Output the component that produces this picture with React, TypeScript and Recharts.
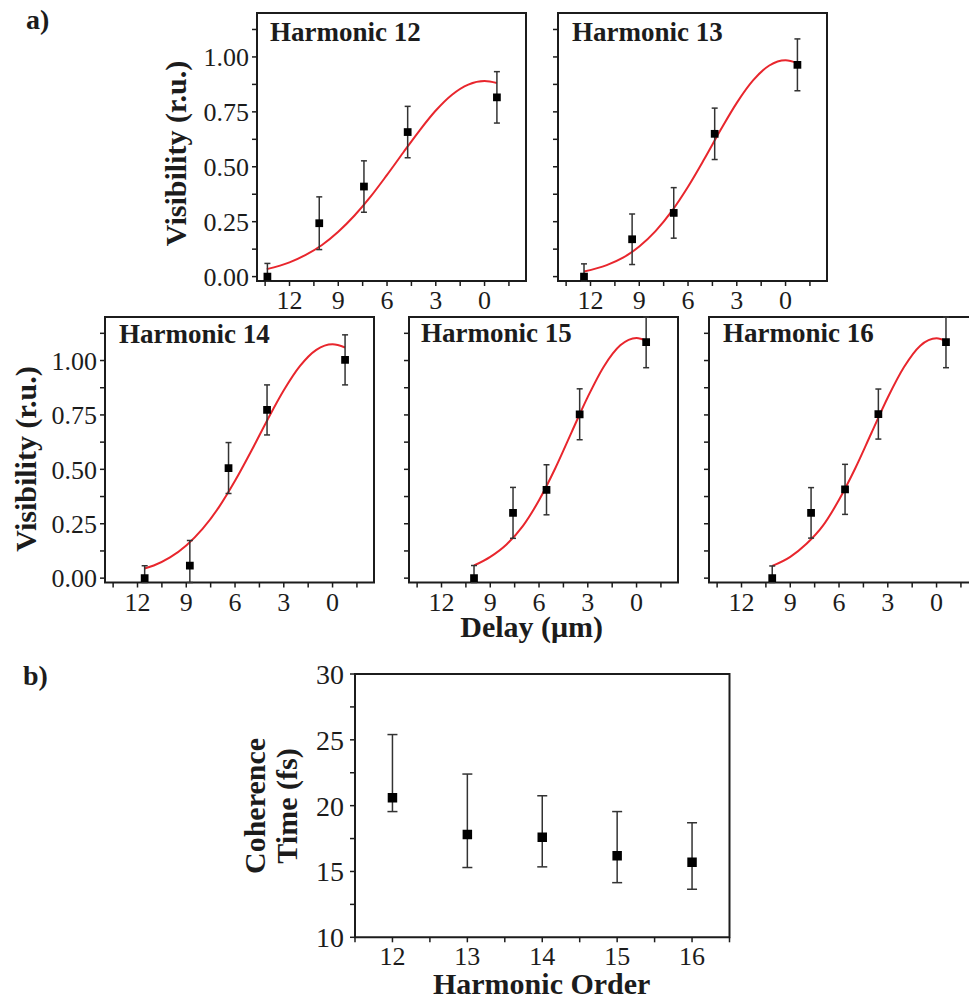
import React from 'react';
import { ComposedChart, Line, Scatter, XAxis, YAxis, ZAxis, ErrorBar, ReferenceArea } from 'recharts';

const FONT = "'Liberation Serif', 'Times New Roman', Times, serif";
const INK = '#1c1c1c';
const RED = '#e8262d';

// ---- axis ticks ----
const delayTicks = [13.5, 12, 10.5, 9, 7.5, 6, 4.5, 3, 1.5, 0, -1.5];
const delayLabelTicks = [12, 9, 6, 3, 0];
const visTicks = [0, 0.125, 0.25, 0.375, 0.5, 0.625, 0.75, 0.875, 1.0, 1.125];
const visLabelTicks = [0, 0.25, 0.5, 0.75, 1.0];
const orderTicks = [11.5, 12, 12.5, 13, 13.5, 14, 14.5, 15, 15.5, 16, 16.5];
const orderLabelTicks = [12, 13, 14, 15, 16];
const timeTicks = [10, 12.5, 15, 17.5, 20, 22.5, 25, 27.5, 30];
const timeLabelTicks = [10, 15, 20, 25, 30];

// ---- Harmonic 12 ----
const h12Delay = [13.36, 10.17, 7.42, 4.73, -0.76];
const h12Vis = [0.0, 0.243, 0.41, 0.658, 0.816];
const h12ErrLow = [0.02, 0.12, 0.117, 0.117, 0.117];
const h12ErrHigh = [0.06, 0.12, 0.117, 0.117, 0.117];
const h12FitDelay = [13.4, 12, 11, 10, 9, 8, 7, 6, 5, 4, 3, 2, 1, 0, -0.76];
const h12FitVis = [0.034, 0.065, 0.099, 0.144, 0.204, 0.278, 0.365, 0.463, 0.565, 0.665, 0.756, 0.828, 0.874, 0.89, 0.881];

// ---- Harmonic 13 ----
const h13Delay = [12.4, 9.44, 6.88, 4.36, -0.73];
const h13Vis = [0.0, 0.17, 0.29, 0.65, 0.964];
const h13ErrLow = [0.02, 0.115, 0.115, 0.117, 0.118];
const h13ErrHigh = [0.058, 0.115, 0.115, 0.117, 0.118];
const h13FitDelay = [12.4, 11, 10, 9, 8, 7, 6, 5, 4, 3, 2, 1, 0, -0.73];
const h13FitVis = [0.023, 0.052, 0.086, 0.137, 0.207, 0.298, 0.409, 0.535, 0.667, 0.791, 0.893, 0.961, 0.985, 0.972];

// ---- Harmonic 14 ----
const h14Delay = [11.56, 8.78, 6.4, 4.03, -0.77];
const h14Vis = [0.0, 0.058, 0.506, 0.773, 1.003];
const h14ErrLow = [0.02, 0.078, 0.117, 0.115, 0.115];
const h14ErrHigh = [0.057, 0.115, 0.117, 0.115, 0.115];
const h14FitDelay = [11.56, 11, 10, 9, 8, 7, 6, 5, 4, 3, 2, 1, 0, -0.77];
const h14FitVis = [0.044, 0.058, 0.095, 0.15, 0.226, 0.325, 0.447, 0.584, 0.728, 0.863, 0.975, 1.049, 1.075, 1.06];

// ---- Harmonic 15 ----
const h15Delay = [10.0, 7.6, 5.54, 3.5, -0.59];
const h15Vis = [0.0, 0.3, 0.406, 0.753, 1.084];
const h15ErrLow = [0.02, 0.117, 0.115, 0.117, 0.117];
const h15ErrHigh = [0.058, 0.117, 0.115, 0.117, 0.116];
const h15FitDelay = [10, 9, 8, 7, 6, 5, 4, 3, 2, 1, 0, -0.59];
const h15FitVis = [0.058, 0.098, 0.155, 0.239, 0.358, 0.505, 0.67, 0.833, 0.974, 1.07, 1.104, 1.092];

// ---- Harmonic 16 ----
const h16Delay = [10.11, 7.72, 5.63, 3.58, -0.58];
const h16Vis = [0.0, 0.3, 0.408, 0.754, 1.084];
const h16ErrLow = [0.02, 0.116, 0.115, 0.115, 0.117];
const h16ErrHigh = [0.056, 0.116, 0.115, 0.115, 0.116];
const h16FitDelay = [10.11, 9, 8, 7, 6, 5, 4, 3, 2, 1, 0, -0.58];
const h16FitVis = [0.056, 0.098, 0.158, 0.24, 0.36, 0.505, 0.668, 0.83, 0.97, 1.068, 1.102, 1.09];

// ---- (b) coherence time ----
const harmonicOrder = [12, 13, 14, 15, 16];
const coherenceTime = [20.6, 17.8, 17.6, 16.2, 15.7];
const coherenceErrLow = [1.05, 2.5, 2.25, 2.05, 2.05];
const coherenceErrHigh = [4.8, 4.6, 3.15, 3.35, 3.0];

type Pt = { d: number; v: number; e: number[] };
const pts = (d: number[], v: number[], lo: number[], hi: number[]): Pt[] =>
  d.map((x, i) => ({ d: x, v: v[i], e: [lo[i], hi[i]] }));
const fit = (d: number[], v: number[]) => d.map((x, i) => ({ d: x, v: v[i] }));

const near = (a: number, list: number[]) => list.some((b) => Math.abs(a - b) < 1e-9);

const tickStyle = { fill: INK, fontSize: 26, fontFamily: FONT };
const tickStyleB = { fill: INK, fontSize: 28, fontFamily: FONT };

type PanelProps = {
  left: number;
  top: number;
  w: number;
  h: number;
  data: Pt[];
  curve: { d: number; v: number }[];
  showY: boolean;
};

function VisPanel({ left, top, w, h, data, curve, showY }: PanelProps) {
  const ML = 70, MT = 20, MR = 10, MB = 45;
  return (
    <div style={{ position: 'absolute', left: left - ML, top: top - MT }}>
      <ComposedChart width={ML + w + MR} height={MT + h + MB} margin={{ top: MT, right: MR, bottom: 0, left: 0 }}>
        <XAxis
          type="number"
          dataKey="d"
          domain={[-2.55, 14]}
          reversed
          allowDataOverflow
          ticks={delayTicks}
          interval={0}
          tickFormatter={(v: number) => (near(v, delayLabelTicks) ? String(v) : '')}
          axisLine={false}
          tickLine={{ stroke: INK, strokeWidth: 1.5 }}
          tickSize={5}
          tickMargin={5}
          height={MB}
          tick={tickStyle}
        />
        <YAxis
          type="number"
          domain={[-0.02, 1.2]}
          allowDataOverflow
          ticks={visTicks}
          interval={0}
          tickFormatter={(v: number) => (showY && near(v, visLabelTicks) ? v.toFixed(2) : '')}
          axisLine={false}
          tickLine={{ stroke: INK, strokeWidth: 1.5 }}
          tickSize={5}
          tickMargin={3}
          width={ML}
          tick={tickStyle}
        />
        <ZAxis range={[60, 60]} />
        <ReferenceArea x1={-2.55} x2={14} y1={-0.02} y2={1.2} fill="none" stroke={INK} strokeWidth={2} ifOverflow="visible" />
        <Line data={curve} dataKey="v" type="monotone" stroke={RED} strokeWidth={2} dot={false} isAnimationActive={false} />
        <Scatter data={data} dataKey="v" fill="#000" shape="square" isAnimationActive={false}>
          <ErrorBar dataKey="e" direction="y" width={3} stroke="#333" strokeWidth={1.5} isAnimationActive={false} />
        </Scatter>
      </ComposedChart>
    </div>
  );
}

function CoherencePanel() {
  const left = 354.5, top = 674, w = 374.5, h = 263.3;
  const ML = 70, MT = 20, MR = 10, MB = 45;
  const data = harmonicOrder.map((o, i) => ({ o, t: coherenceTime[i], err: [coherenceErrLow[i], coherenceErrHigh[i]] }));
  return (
    <div style={{ position: 'absolute', left: left - ML, top: top - MT }}>
      <ComposedChart width={ML + w + MR} height={MT + h + MB} margin={{ top: MT, right: MR, bottom: 0, left: 0 }}>
        <XAxis
          type="number"
          dataKey="o"
          domain={[11.5, 16.5]}
          allowDataOverflow
          ticks={orderTicks}
          interval={0}
          tickFormatter={(v: number) => (near(v, orderLabelTicks) ? String(v) : '')}
          axisLine={false}
          tickLine={{ stroke: INK, strokeWidth: 1.5 }}
          tickSize={5}
          tickMargin={4}
          height={MB}
          tick={tickStyle}
        />
        <YAxis
          type="number"
          domain={[10, 30]}
          allowDataOverflow
          ticks={timeTicks}
          interval={0}
          tickFormatter={(v: number) => (near(v, timeLabelTicks) ? String(v) : '')}
          axisLine={false}
          tickLine={{ stroke: INK, strokeWidth: 1.5 }}
          tickSize={5}
          tickMargin={6}
          width={ML}
          tick={tickStyleB}
        />
        <ZAxis range={[90, 90]} />
        <ReferenceArea x1={11.5} x2={16.5} y1={10} y2={30} fill="none" stroke={INK} strokeWidth={2} ifOverflow="visible" />
        <Scatter data={data} dataKey="t" fill="#000" shape="square" isAnimationActive={false}>
          <ErrorBar dataKey="err" direction="y" width={5} stroke="#333" strokeWidth={1.5} isAnimationActive={false} />
        </Scatter>
      </ComposedChart>
    </div>
  );
}

export default function App() {
  const boldText = { fontFamily: FONT, fontWeight: 700, fill: INK } as const;
  return (
    <div style={{ position: 'fixed', left: 0, top: 0, width: 969, height: 999, overflow: 'hidden', background: '#fff' }}>
      <VisPanel left={257} top={13} w={269} h={268} data={pts(h12Delay, h12Vis, h12ErrLow, h12ErrHigh)} curve={fit(h12FitDelay, h12FitVis)} showY />
      <VisPanel left={558} top={13} w={269} h={268} data={pts(h13Delay, h13Vis, h13ErrLow, h13ErrHigh)} curve={fit(h13FitDelay, h13FitVis)} showY={false} />
      <VisPanel left={104.5} top={316.5} w={269} h={265.5} data={pts(h14Delay, h14Vis, h14ErrLow, h14ErrHigh)} curve={fit(h14FitDelay, h14FitVis)} showY />
      <VisPanel left={408.5} top={316.5} w={269} h={265.5} data={pts(h15Delay, h15Vis, h15ErrLow, h15ErrHigh)} curve={fit(h15FitDelay, h15FitVis)} showY={false} />
      <VisPanel left={708.5} top={316.5} w={269} h={265.5} data={pts(h16Delay, h16Vis, h16ErrLow, h16ErrHigh)} curve={fit(h16FitDelay, h16FitVis)} showY={false} />
      <CoherencePanel />
      <svg width={969} height={999} style={{ position: 'absolute', left: 0, top: 0, pointerEvents: 'none' }}>
        <text x={26} y={29} fontSize={28} {...boldText}>a)</text>
        <text x={23} y={685} fontSize={28} {...boldText}>b)</text>
        <text x={270} y={40.5} fontSize={27} {...boldText}>Harmonic 12</text>
        <text x={572} y={40.5} fontSize={27} {...boldText}>Harmonic 13</text>
        <text x={119} y={343} fontSize={27} {...boldText}>Harmonic 14</text>
        <text x={421} y={342} fontSize={27} {...boldText}>Harmonic 15</text>
        <text x={723} y={342} fontSize={27} {...boldText}>Harmonic 16</text>
        <text x={0} y={0} fontSize={30} textAnchor="middle" transform="translate(186,153.5) rotate(-90)" {...boldText}>Visibility (r.u.)</text>
        <text x={0} y={0} fontSize={30} textAnchor="middle" transform="translate(35.5,459) rotate(-90)" {...boldText}>Visibility (r.u.)</text>
        <text x={531.7} y={637} fontSize={30} textAnchor="middle" {...boldText}>Delay (μm)</text>
        <text x={0} y={0} fontSize={30} textAnchor="middle" transform="translate(265,806) rotate(-90)" {...boldText}>Coherence</text>
        <text x={0} y={0} fontSize={30} textAnchor="middle" transform="translate(297,806) rotate(-90)" {...boldText}>Time (fs)</text>
        <text x={541.7} y={994} fontSize={30} textAnchor="middle" {...boldText}>Harmonic Order</text>
      </svg>
    </div>
  );
}
